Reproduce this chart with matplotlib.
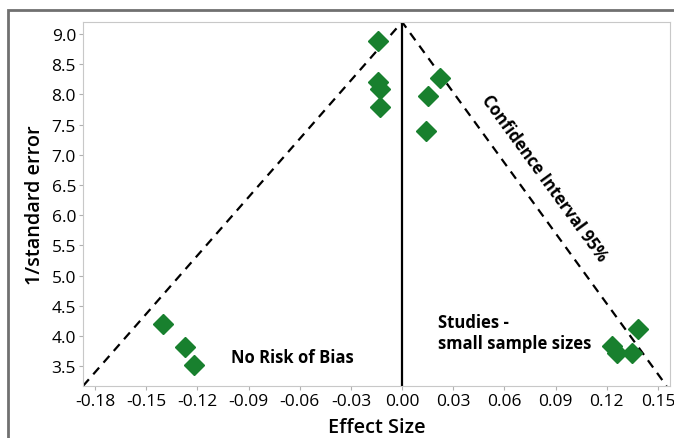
import matplotlib.pyplot as plt
from matplotlib.patches import Rectangle

# study effect sizes and precision (1/standard error)
effect = [-0.014, -0.014, -0.013, -0.013, 0.022, 0.015, 0.014,
          -0.140, -0.127, -0.122, 0.138, 0.123, 0.126, 0.135]
precision = [8.88, 8.20, 8.09, 7.79, 8.27, 7.98, 7.40,
             4.20, 3.81, 3.51, 4.11, 3.83, 3.71, 3.71]

# funnel (95% confidence interval) vertices
funnel_x = [-0.187, 0.0, 0.155]
funnel_y = [3.17, 9.2, 3.17]

xticks = [-0.18, -0.15, -0.12, -0.09, -0.06, -0.03, 0.00, 0.03, 0.06, 0.09, 0.12, 0.15]
yticks = [3.5, 4.0, 4.5, 5.0, 5.5, 6.0, 6.5, 7.0, 7.5, 8.0, 8.5, 9.0]

plt.rcParams['font.family'] = ['Open Sans', 'DejaVu Sans']

fig = plt.figure(figsize=(6.74, 4.39), dpi=100)
ax = fig.add_axes([83/674, 1 - 387/439, (670-83)/674, (387-23)/439])

fig.patches.append(Rectangle((8/674, -0.1), 1.1, 1 - 11/439 + 0.1, transform=fig.transFigure,
                             fill=False, edgecolor='#707070', linewidth=2))

ax.plot(funnel_x, funnel_y, color='black', linestyle=(0, (4, 3)), linewidth=1.6)
ax.plot([0, 0], [3.17, 9.2], color='black', linewidth=1.6)
ax.plot(effect, precision, linestyle='none', marker='D', markersize=10,
        color='#18802e', markeredgecolor='#18802e')

ax.set_xlim(-0.187, 0.157)
ax.set_ylim(3.17, 9.2)
ax.set_xticks(xticks)
ax.set_xticklabels(['%.2f' % v for v in xticks])
ax.set_yticks(yticks)
ax.set_yticklabels(['%.1f' % v for v in yticks])
ax.tick_params(labelsize=12.5, color='#b0b0b0', length=3, pad=2)
for s in ax.spines.values():
    s.set_color('#c8c8c8')

ax.set_xlabel('Effect Size', fontsize=14.3, fontweight='semibold', labelpad=6)
ax.set_ylabel('1/standard error', fontsize=14.3, fontweight='semibold', labelpad=5)

ax.text(-0.10, 3.65, 'No Risk of Bias', fontsize=12, fontweight='bold', va='center')
ax.text(0.021, 4.05, 'Studies -\nsmall sample sizes', fontsize=12, fontweight='bold',
        va='center', linespacing=1.2)
ax.text(0.083, 6.62, 'Confidence Interval 95%', fontsize=12, fontweight='bold',
        rotation=-54, ha='center', va='center', rotation_mode='anchor')

fig.savefig('out.png', dpi=100)
